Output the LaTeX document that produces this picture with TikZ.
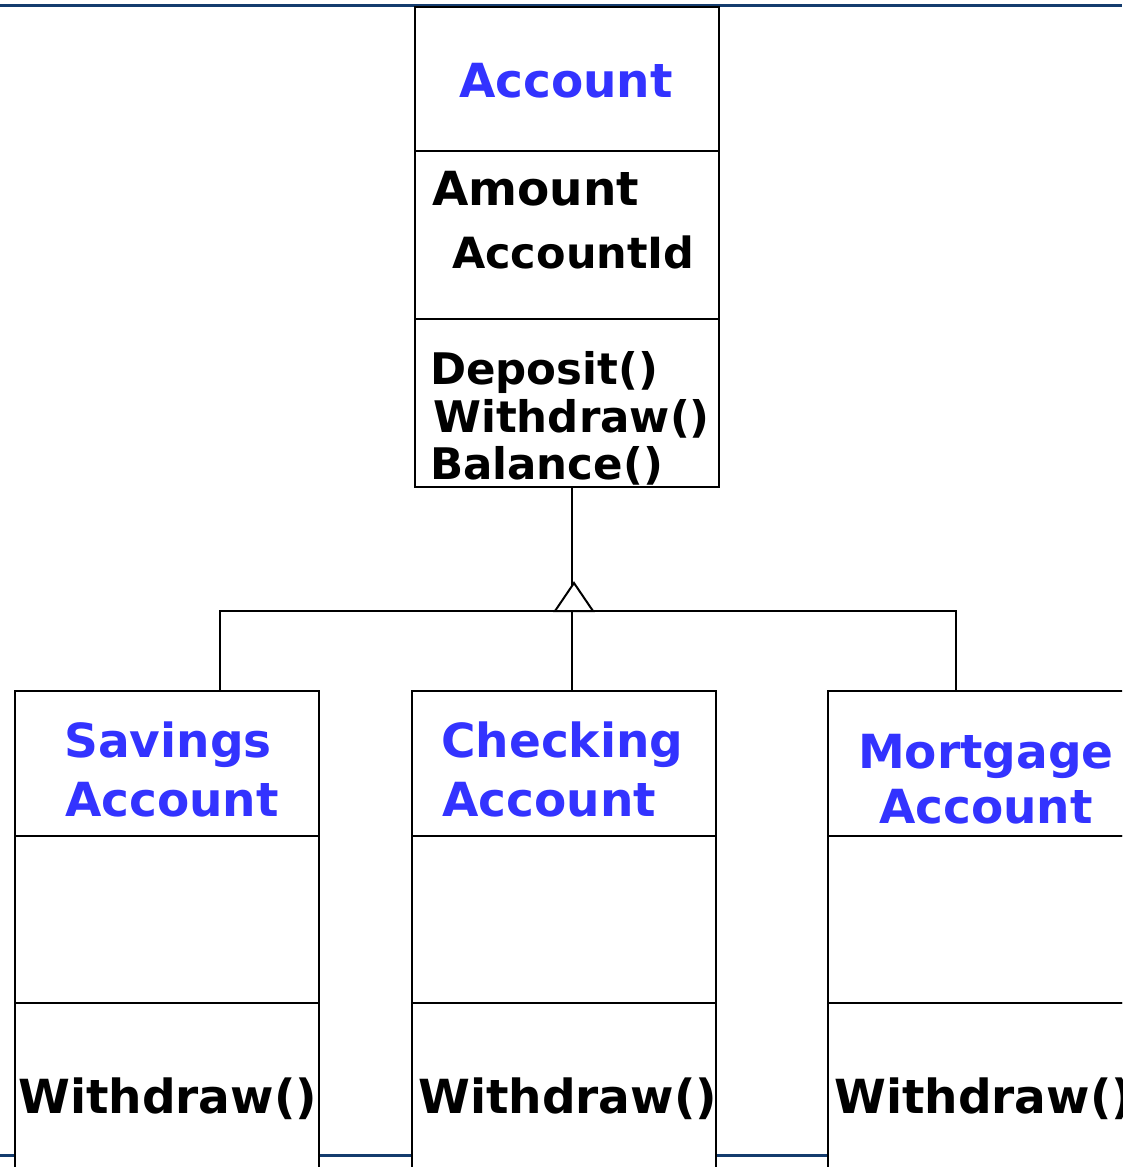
\documentclass[tikz,border=0pt]{standalone}
\usepackage{fontspec}
\setmainfont{DejaVu Sans}
\usepackage{xcolor}
\usetikzlibrary{calc}
\definecolor{clsblue}{RGB}{51,51,255}
\definecolor{rulecol}{RGB}{20,60,110}
\tikzset{part/.style={draw,line width=2pt,fill=white,minimum width=304pt,anchor=north west,inner sep=0pt,outer sep=0pt}}
\tikzset{clsname/.style={text=clsblue,font=\fontsize{47}{57}\selectfont\bfseries,inner sep=0pt,anchor=base}}
\tikzset{member/.style={font=\fontsize{47}{57}\selectfont\bfseries,inner sep=0pt,anchor=base west}}
\tikzset{oper/.style={member,font=\fontsize{43.5}{50}\selectfont\bfseries}}

\begin{document}
\begin{tikzpicture}[x=1pt,y=-1pt]
                    \clip (0,0) rectangle (1122,1167);
                    \fill[white] (0,0) rectangle (1122,1167);

                    % page rules
                    \draw[rulecol,line width=3pt] (0,5) -- (1122,5);
                    \draw[rulecol,line width=3pt] (0,1155) -- (1122,1155);

                    % base class
                    \node[part,minimum height=144pt] (acc-name) at (415,7) {};
                    \node[part,minimum height=168pt] (acc-attr) at (acc-name.south west) {};
                    \node[part,minimum height=168pt] (acc-ops) at (acc-attr.south west) {};
                    \node[clsname] (acc-title) at (566,97) {Account};
                    \node[member] (amount) at (432,205) {Amount};
                    \node[member,font=\fontsize{43}{50}\selectfont\bfseries] (accid) at (452,268) {AccountId};
                    \node[oper] (deposit) at (430,384) {Deposit()};
                    \node[oper] (withdraw) at (433,432) {Withdraw()};
                    \node[oper] (balance) at (430,479) {Balance()};

                    % subclasses
                    \node[part,minimum height=145pt] (sav-name) at (15,691) {};
                    \node[part,minimum height=167pt] (sav-attr) at (sav-name.south west) {};
                    \node[part,minimum height=200pt] (sav-ops) at (sav-attr.south west) {};
                    \node[clsname] (sav-t1) at (168,757) {Savings};
                    \node[clsname] (sav-t2) at (172,816) {Account};
                    \node[member] (sav-wd) at (18,1113) {Withdraw()};

                    \node[part,minimum height=145pt] (chk-name) at (412,691) {};
                    \node[part,minimum height=167pt] (chk-attr) at (chk-name.south west) {};
                    \node[part,minimum height=200pt] (chk-ops) at (chk-attr.south west) {};
                    \node[member,text=clsblue] (chk-t1) at (441,757) {Checking};
                    \node[member,text=clsblue] (chk-t2) at (442,816) {Account};
                    \node[member] (chk-wd) at (418,1113) {Withdraw()};

                    \node[part,minimum height=145pt] (mort-name) at (828,691) {};
                    \node[part,minimum height=167pt] (mort-attr) at (mort-name.south west) {};
                    \node[part,minimum height=200pt] (mort-ops) at (mort-attr.south west) {};
                    \node[clsname] (mort-t1) at (986,768) {Mortgage};
                    \node[clsname] (mort-t2) at (986,823) {Account};
                    \node[member] (mort-wd) at (834,1113) {Withdraw()};

                    % generalization
                    \coordinate (gen) at (572,611);
                    \draw[line width=2pt] (gen |- acc-ops.south) -- (gen);
                    \draw[line width=2pt] ($(sav-name.north)+(53,0)$) |- (gen) -| ($(mort-name.north)+(-24,0)$);
                    \draw[line width=2pt] (gen) -- (gen |- chk-name.north);
                    \draw[line width=2pt,fill=white] (gen) ++(-17,0) -- ++(19,-28) -- ++(19,28) -- cycle;
                \end{tikzpicture}
\end{document}
